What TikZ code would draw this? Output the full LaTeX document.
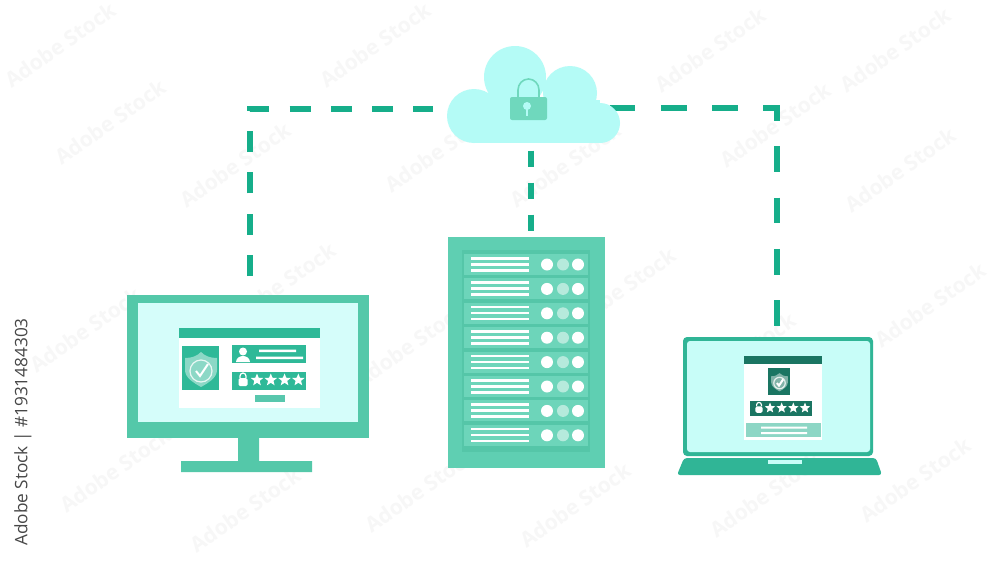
\documentclass[tikz,border=0pt]{standalone}
\usepackage{fontspec}
\setsansfont{Open Sans}
\usepackage{tikz}
\usetikzlibrary{positioning,arrows.meta,calc,shapes.geometric}
\definecolor{cloudfill}{HTML}{B4FBF6}
\definecolor{lockfill}{HTML}{6FD8BD}
\definecolor{frame}{HTML}{54C8A9}
\definecolor{screen}{HTML}{D5FDFA}
\definecolor{bar}{HTML}{2FB998}
\definecolor{lapframe}{HTML}{30B596}
\definecolor{lapscreen}{HTML}{C8FDF8}
\definecolor{lapdark}{HTML}{1A7562}
\definecolor{linkcol}{HTML}{16AE8A}
\definecolor{rackouter}{HTML}{5FCFB2}
\definecolor{rackinner}{HTML}{55C6A8}
\definecolor{rackslot}{HTML}{6DD5BA}
\definecolor{markcol}{HTML}{F7F7F7}
\tikzset{
  pics/shield/.style={code={
    \fill[white,opacity=.45] (-16,-11) .. controls (-9,-11) and (-4,-13) .. (0,-17)
      .. controls (4,-13) and (9,-11) .. (16,-11) -- (16,1)
      .. controls (16,9) and (7,14) .. (0,18)
      .. controls (-7,14) and (-16,9) .. (-16,1) -- cycle;
    \draw[white,line width=1.2pt,opacity=.8] (0,2) circle (11);
    \draw[white,line width=2pt] (-5,2) -- (-1,7) -- (7,-5);
  }},
  pics/padlock/.style={code={
    \draw[white,line width=1.2pt] (-3,-2) -- (-3,-4) arc (180:0:3 and -3) -- (3,-2);
    \fill[white,rounded corners=1.5pt] (-4.5,-2) rectangle (4.5,6);
  }},
  pics/fivestars/.style={code={
    \foreach \s in {0,...,3}
      \node[star,star points=5,star point ratio=2.3,fill=white,inner sep=0pt,
            minimum size=#1pt] at (\s*#1*1.06,0) {};
  }}
}
\begin{document}
\begin{tikzpicture}[x=1pt,y=-1pt,
  link/.style={draw=linkcol,line width=6pt},
  unit/.style={rectangle,inner sep=0pt,outer sep=0pt},
  wmark/.style={font=\sffamily\bfseries\fontsize{21}{21}\selectfont,text=markcol,rotate=35},
  every node/.style={inner sep=0pt}
]
\useasboundingbox (0,0) rectangle (1000,562);
\fill[white] (0,0) rectangle (1000,562);
% watermark
\foreach \px/\py [count=\i] in {110/122,235/165,60/45,375/45,440/150,565/165,710/50,775/125,
    900/170,895/50,280/285,410/345,85/330,620/290,740/355,930/305,515/395,115/470,
    245/510,420/490,575/505,765/495,915/480}
  \node[wmark] (mark\i) at (\px,\py) {Adobe Stock};
\node[font=\sffamily\fontsize{17.2}{17.2}\selectfont,text=black!72,rotate=90] (stock) at (23,432)
  {Adobe Stock | \#1931484303};

% main units
\node[unit,fill=frame,minimum width=242pt,minimum height=143pt] (monitor) at (248,366.5) {};
\node[unit,fill=rackouter,minimum width=157pt,minimum height=231pt] (server) at (526.5,352.5) {};
\node[unit,fill=lapframe,rounded corners=4pt,minimum width=190pt,minimum height=119pt] (laptop) at (778,396.5) {};
\node[unit,minimum width=174pt,minimum height=96pt] (cloud) at (534,95) {};
\coordinate (monitortop) at (250,295);
\coordinate (servertop) at (531,237);
\coordinate (laptoptop) at (776.5,337);
\coordinate (cloudleft) at (447,109);
\coordinate (cloudright) at (609.5,108);
\coordinate (cloudbottom) at (531,143);

% links
\draw[link,dash pattern=on 21pt off 20.3pt,shorten <=19pt,shorten >=14pt] (monitortop) |- (cloudleft);
\draw[link,dash pattern=on 25.7pt off 25.6pt,shorten >=11pt] (cloudright) -| (laptoptop);
\draw[link,dash pattern=on 16pt off 16pt,shorten <=7.5pt,shorten >=6pt] (cloudbottom) -- (servertop);

% cloud
\fill[cloudfill] (515,77) circle (31) (570,93) circle (27) (474,116) circle (27)
  (600,123) circle (20);
\fill[cloudfill] (474,100) rectangle (600,143);
\draw[lockfill,line width=1.6pt] (518,98) -- (518,90) arc (180:0:10.5 and -11) -- (539,98);
\fill[lockfill,rounded corners=2pt] (510,97) rectangle (547,120);
\fill[cloudfill] (527,106) circle (4);
\fill[cloudfill] (526,108) rectangle (528,116);

% monitor
\fill[screen] (138,303) rectangle (358,422);
\fill[frame] (238,438) rectangle (259,461) (181,461) rectangle (312,472);
\fill[white] (179,328) rectangle (320,408);
\fill[bar] (179,328) rectangle (320,338);
\fill[bar] (182,346) rectangle (219,390);
\pic at (201,369) {shield};
\fill[bar] (232,345) rectangle (306,363);
\fill[white] (243,351.5) circle (4);
\fill[white] (236,362) .. controls (236.5,354) and (249.5,354) .. (250,362) -- cycle;
\fill[white] (259,349.5) rectangle (296,352) (256,356.5) rectangle (303,359);
\fill[bar] (232,372) rectangle (306,390);
\pic at (243,380) {padlock};
\pic at (257,380) {fivestars=13};
\fill[bar!80!white] (255,395) rectangle (285,402);

% server
\fill[rackinner] (462,250) rectangle (590,452);
\foreach \r in {0,...,7}{
  \fill[rackslot] (464,254+24.4*\r) rectangle (588,275+24.4*\r);
  \foreach \l in {-6,0,6}
    \fill[white] (471,263+24.4*\r+\l) rectangle (529,265.5+24.4*\r+\l);
  \fill[white] (547,264.5+24.4*\r) circle (6) (578,264.5+24.4*\r) circle (6);
  \fill[white,opacity=.5] (563,264.5+24.4*\r) circle (6);
}

% laptop
\fill[lapscreen,rounded corners=3pt] (687,341) rectangle (870,452);
\fill[lapframe,rounded corners=3pt] (677,475) -- (684,458) -- (876,458) -- (882,475) -- cycle;
\fill[lapscreen] (768,460) rectangle (802,464);
\fill[white] (744,356) rectangle (822,440);
\fill[lapdark] (744,356) rectangle (822,364);
\fill[lapdark] (768,368) rectangle (790,395);
\pic[scale=.52] at (779.5,382) {shield};
\fill[lapdark] (750,401) rectangle (812,416);
\pic[scale=.8] at (759,408) {padlock};
\pic at (770,408) {fivestars=11};
\fill[lapframe!55!white] (746,423) rectangle (821,437);
\fill[white] (761,426.5) rectangle (807,428.5) (761,432) rectangle (807,434);
\end{tikzpicture}
\end{document}
